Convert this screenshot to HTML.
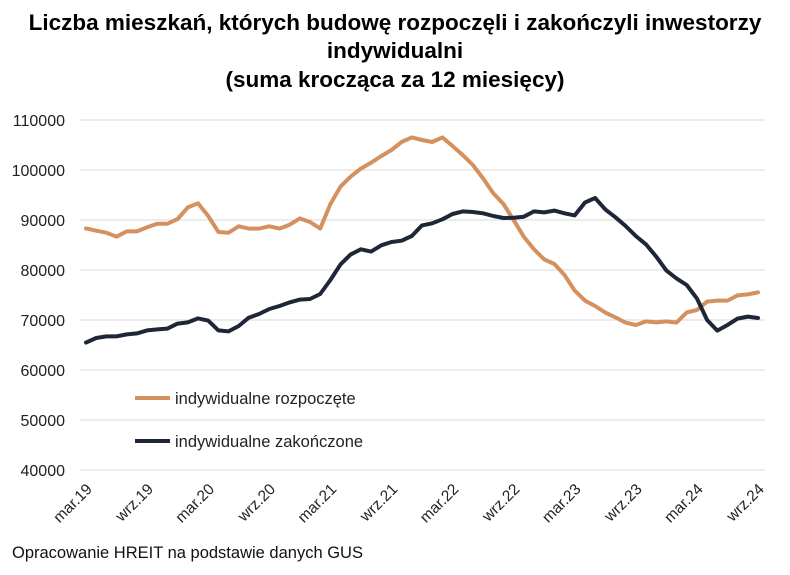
<!DOCTYPE html>
<html><head><meta charset="utf-8"><style>
body{margin:0;background:#fff;font-family:"Liberation Sans",sans-serif;}
svg text{font-family:"Liberation Sans",sans-serif;}
</style></head><body>
<svg width="790" height="570" viewBox="0 0 790 570" id="c">
<text x="395" y="30" text-anchor="middle" font-size="22.5" font-weight="bold" fill="#000">Liczba mieszkań, których budowę rozpoczęli i zakończyli inwestorzy</text>
<text x="395" y="58" text-anchor="middle" font-size="22.5" font-weight="bold" fill="#000">indywidualni</text>
<text x="395" y="87" text-anchor="middle" font-size="22.5" font-weight="bold" fill="#000">(suma krocząca za 12 miesięcy)</text>
<g id="grid"></g>
<g id="yt"></g>
<g id="xt"></g>
<g id="series"></g>
<line x1="135" y1="398" x2="170" y2="398" stroke="#D4915F" stroke-width="4"/>
<text x="175" y="404" font-size="16.5" fill="#222">indywidualne rozpoczęte</text>
<line x1="135" y1="441" x2="170" y2="441" stroke="#1F2638" stroke-width="4"/>
<text x="175" y="447" font-size="16.5" fill="#222">indywidualne zakończone</text>
<text x="12" y="558" font-size="16.5" fill="#111">Opracowanie HREIT na podstawie danych GUS</text>
</svg>
<script>
const yTicks=[40000,50000,60000,70000,80000,90000,100000,110000];
const xLabels=["mar.19","wrz.19","mar.20","wrz.20","mar.21","wrz.21","mar.22","wrz.22","mar.23","wrz.23","mar.24","wrz.24"];
const started=[88330,87870,87470,86670,87730,87730,88530,89270,89270,90200,92530,93330,90800,87600,87470,88730,88270,88270,88730,88270,89070,90330,89600,88270,93200,96670,98670,100270,101470,102800,104000,105600,106530,106000,105600,106530,104800,103000,101000,98330,95330,93200,90000,86670,84130,82130,81200,79000,75870,73870,72800,71470,70530,69470,69000,69730,69530,69730,69470,71530,72000,73670,73870,73870,74930,75130,75530];
const completed=[65470,66400,66730,66730,67130,67330,67930,68130,68270,69270,69530,70330,69870,67930,67730,68800,70470,71200,72200,72800,73530,74070,74200,75200,78000,81130,83130,84130,83670,84930,85600,85870,86800,88930,89330,90130,91200,91730,91600,91330,90800,90400,90470,90670,91730,91530,91870,91330,90930,93470,94400,92130,90530,88800,86800,85130,82670,79870,78330,77000,74330,70000,67870,69000,70270,70670,70400];
const NS="http://www.w3.org/2000/svg";
const x0=86,x1=758,y0=470,y1=120,yMin=40000,yMax=110000;
const n=started.length;
const xs=i=>x0+(x1-x0)*i/(n-1);
const ys=v=>y0-(v-yMin)/(yMax-yMin)*(y0-y1);
function mk(t,a,p){const e=document.createElementNS(NS,t);for(const k in a)e.setAttribute(k,a[k]);p.appendChild(e);return e;}
const grid=document.getElementById('grid'),yt=document.getElementById('yt'),xt=document.getElementById('xt'),ser=document.getElementById('series');
yTicks.forEach(v=>{
 const l=mk('line',{x1:80,x2:765,y1:ys(v),y2:ys(v),stroke:'#d9d9d9','stroke-width':1},grid);
 
 
 const t=mk('text',{x:65,y:ys(v)+6,'text-anchor':'end','font-size':16,fill:'#222'},yt);
 t.textContent=v;
 
 
});
xLabels.forEach((s,k)=>{
 const x=xs(k*6),y=482;
 const t=mk('text',{x:x+7,y:y+8,'text-anchor':'end','font-size':15.5,fill:'#222',transform:`rotate(-45 ${x+7} ${y+8})`},xt);
 t.textContent=s;
 
 
});
function line(d,col,name){
 const p=mk('polyline',{points:d.map((v,i)=>xs(i).toFixed(1)+','+ys(v).toFixed(1)).join(' '),fill:'none',stroke:col,'stroke-width':4,'stroke-linejoin':'round','stroke-linecap':'round'},ser);
 
 
}
line(started,'#D4915F','line-started');
line(completed,'#1F2638','line-completed');
</script>
</body></html>
